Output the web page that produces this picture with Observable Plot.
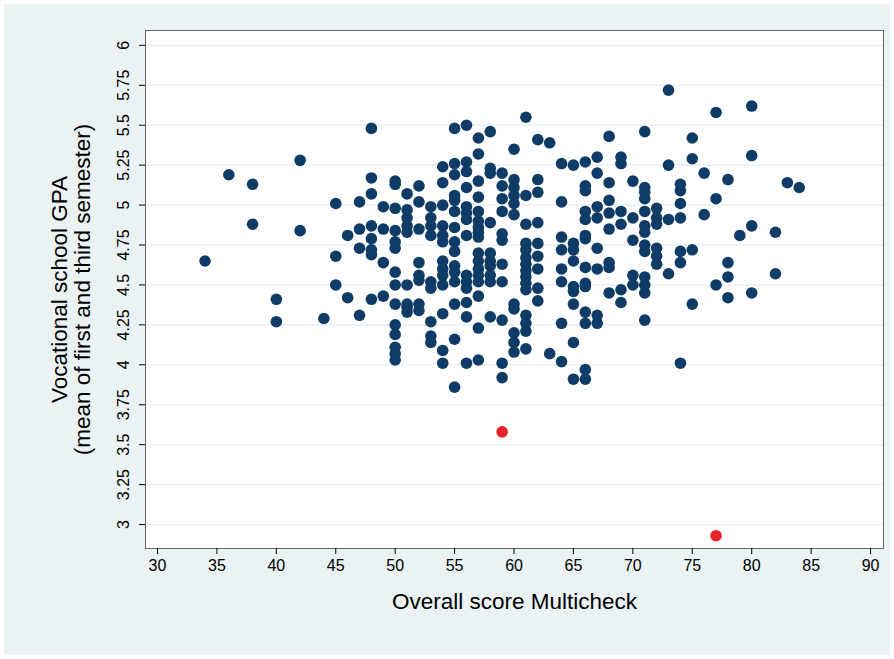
<!DOCTYPE html>
<html><head><meta charset="utf-8">
<script src="https://cdn.jsdelivr.net/npm/d3@7"></script>
<script src="https://cdn.jsdelivr.net/npm/@observablehq/plot@0.6"></script>
<style>
html,body{margin:0;padding:0;background:#fff;}
#bg{position:absolute;left:4px;top:4px;width:886px;height:651px;background:#eaf2f3;}
#chart{position:absolute;left:0;top:0;width:894px;height:659px;}
</style></head><body><div id="bg"></div><div id="chart"></div>
<script>
// Multicheck score columns and the GPA values observed at each score
const scoreColumns = [34,36,38,40,42,44,45,46,47,48,49,50,51,52,53,54,55,56,57,58,59,60,61,62,63,64,65,66,67,68,69,70,71,72,73,74,75,76,77,78,79,80,82,83,84];
const gpaColumns = [
  [4.65],
  [5.19],
  [5.13,4.88],
  [4.41,4.27],
  [5.28,4.84],
  [4.29],
  [5.01,4.68,4.50],
  [4.81,4.42],
  [5.02,4.85,4.73,4.31],
  [5.48,5.17,5.07,4.87,4.79,4.72,4.69,4.41],
  [4.99,4.85,4.64,4.43],
  [5.15,5.13,4.98,4.84,4.77,4.73,4.58,4.50,4.38,4.25,4.19,4.11,4.07,4.03],
  [5.07,4.97,4.92,4.87,4.83,4.50,4.38,4.36,4.33],
  [5.12,5.02,4.85,4.64,4.56,4.53,4.38,4.34],
  [4.99,4.92,4.87,4.81,4.52,4.48,4.27,4.18,4.14],
  [5.24,5.14,5.00,4.87,4.81,4.77,4.65,4.60,4.56,4.50,4.32,4.09,4.01],
  [5.48,5.26,5.19,5.06,5.03,4.96,4.86,4.77,4.71,4.62,4.58,4.52,4.38,4.16,3.86],
  [5.50,5.27,5.21,5.11,4.99,4.95,4.91,4.81,4.56,4.52,4.48,4.39,4.30,4.01],
  [5.42,5.32,5.15,5.05,4.96,4.90,4.86,4.83,4.80,4.70,4.65,4.60,4.56,4.52,4.43,4.23,4.03],
  [5.46,5.23,5.20,4.89,4.70,4.65,4.62,4.56,4.52,4.30],
  [5.20,5.12,5.04,4.96,4.82,4.78,4.63,4.52,4.28,4.01,3.92],
  [5.35,5.16,5.11,5.06,5.01,4.94,4.38,4.35,4.20,4.14,4.08],
  [5.55,5.06,4.88,4.76,4.72,4.67,4.63,4.59,4.55,4.51,4.47,4.31,4.26,4.21,4.10],
  [5.41,5.16,5.08,4.89,4.76,4.68,4.60,4.48,4.40],
  [5.39,4.07],
  [5.26,5.02,4.80,4.72,4.60,4.52,4.26,4.02],
  [5.25,4.76,4.72,4.65,4.49,4.46,4.38,4.14,3.91],
  [5.27,5.12,5.09,4.96,4.91,4.81,4.79,4.61,4.51,4.49,4.33,4.26,3.97,3.91],
  [5.30,5.20,4.99,4.92,4.73,4.60,4.31,4.26],
  [5.43,5.14,5.03,4.95,4.85,4.64,4.61,4.45],
  [5.30,5.26,4.96,4.88,4.47,4.39],
  [5.15,4.92,4.78,4.56,4.50],
  [5.46,5.11,5.08,5.04,4.96,4.87,4.83,4.75,4.71,4.55,4.50,4.45,4.28],
  [4.98,4.92,4.88,4.73,4.68,4.63],
  [5.72,5.25,4.91,4.57],
  [5.13,5.09,5.01,4.92,4.71,4.64,4.01],
  [5.42,5.29,4.72,4.38],
  [5.20,4.94],
  [5.58,5.04,4.50],
  [5.16,4.64,4.55,4.42],
  [4.81],
  [5.62,5.31,4.87,4.45],
  [4.83,4.57],
  [5.14],
  [5.11]
];
// Highlighted (red) observations
const outlierScore = [59, 77];
const outlierGpa = [3.58, 2.93];

const xTicks = [30,35,40,45,50,55,60,65,70,75,80,85,90];
const yTicks = [3,3.25,3.5,3.75,4,4.25,4.5,4.75,5,5.25,5.5,5.75,6];
const xTitle = "Overall score Multicheck";
const yTitle1 = "Vocational school GPA";
const yTitle2 = "(mean of first and third semester)";

const points = scoreColumns.flatMap((s, i) => gpaColumns[i].map(g => ({score: s, gpa: g})));
const outliers = outlierScore.map((s, i) => ({score: s, gpa: outlierGpa[i]}));

const chart = Plot.plot({
  width: 894, height: 659,
  marginLeft: 145, marginRight: 11, marginTop: 30, marginBottom: 111,
  style: {background: "transparent", fontFamily: "'Liberation Sans', Arial, sans-serif", fontSize: "16px", color: "#000"},
  x: {domain: [28.99, 91.09]},
  y: {domain: [2.85, 6.093]},
  marks: [
    Plot.frame({fill: "#fff"}),
    Plot.gridY({ticks: yTicks, stroke: "#eaf2f3", strokeOpacity: 1, strokeWidth: 1.6}),
    Plot.frame({stroke: "#444", strokeWidth: 0.8}),
    Plot.axisX({ticks: xTicks, tickSize: 6, tickPadding: 5, label: null, fontSize: 16}),
    Plot.axisY({ticks: yTicks, tickSize: 6, tickPadding: 11, tickRotate: -90, textAnchor: "middle", lineAnchor: "bottom", tickFormat: d => String(d), label: null, fontSize: 16}),
    Plot.dot(points, {x: "score", y: "gpa", r: 5.8, fill: "#0f3b67", stroke: "none"}),
    Plot.dot(outliers, {x: "score", y: "gpa", r: 5.8, fill: "#e8212a", stroke: "none"}),
    Plot.text([xTitle], {frameAnchor: "bottom", textAnchor: "middle", dy: 60, fontSize: 22.5}),
    Plot.text([yTitle1], {frameAnchor: "left", textAnchor: "middle", rotate: -90, dx: -86, fontSize: 22.5}),
    Plot.text([yTitle2], {frameAnchor: "left", textAnchor: "middle", rotate: -90, dx: -63, fontSize: 22.5})
  ]
});
document.getElementById("chart").appendChild(chart);
</script>
</body></html>
